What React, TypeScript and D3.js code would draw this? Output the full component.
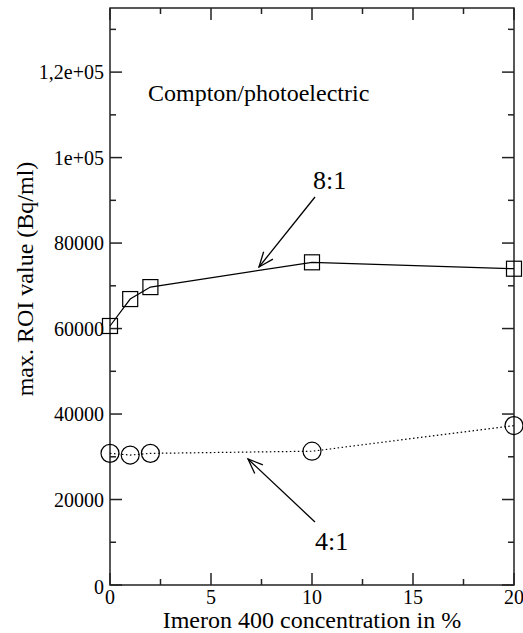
import React from "react";
import * as d3 from "d3";

const concentrations = [0, 1, 2, 10, 20];
const ratio8to1 = [60600, 66900, 69700, 75500, 74000];
const ratio4to1 = [30800, 30400, 30800, 31300, 37300];
const yMajorTicks = [0, 20000, 40000, 60000, 80000, 100000, 120000];
const yTickLabels = ["0", "20000", "40000", "60000", "80000", "1e+05", "1,2e+05"];
const xMajorTicks = [0, 5, 10, 15, 20];
const xTickLabels = ["0", "5", "10", "15", "20"];

const W = 523, H = 633;
const L = 110, R = 514, T = 8, B = 585;
const FONT = "Liberation Serif";

export default function App() {
  const x = d3.scaleLinear().domain([0, 20]).range([L, R]);
  const y = d3.scaleLinear().domain([0, 135000]).range([B, T]);
  const yMinor = d3.range(10000, 135000, 20000);
  const xMinor = d3.range(2.5, 20, 5);
  const line = d3.line<number>().x((_, i) => x(concentrations[i])).y((d) => y(d));

  const arrow = (x1: number, y1: number, x2: number, y2: number) => {
    const ang = Math.atan2(y2 - y1, x2 - x1);
    const len = 16, spread = 0.38;
    const a1 = ang + Math.PI - spread, a2 = ang + Math.PI + spread;
    return (
      <g stroke="#000" strokeWidth={1.3} fill="none">
        <line x1={x1} y1={y1} x2={x2} y2={y2} />
        <polyline points={`${x2 + len * Math.cos(a1)},${y2 + len * Math.sin(a1)} ${x2},${y2} ${x2 + len * Math.cos(a2)},${y2 + len * Math.sin(a2)}`} />
      </g>
    );
  };

  return (
    <div style={{ position: "absolute", left: 0, top: 0, width: W, height: H, fontFamily: FONT }}>
      <svg width={W} height={H} fontFamily={FONT} style={{ display: "block" }}>
        <rect x={0} y={0} width={W} height={H} fill="#fff" />
        <rect x={L} y={T} width={R - L} height={B - T} fill="none" stroke="#222" strokeWidth={1.5} />
        {yMajorTicks.map((v) => (
          <g key={"ym" + v} stroke="#222" strokeWidth={1.5}>
            <line x1={L} x2={L + 12} y1={y(v)} y2={y(v)} />
            <line x1={R} x2={R - 12} y1={y(v)} y2={y(v)} />
          </g>
        ))}
        {yMinor.map((v) => (
          <g key={"yn" + v} stroke="#222" strokeWidth={1.5}>
            <line x1={L} x2={L + 6} y1={y(v)} y2={y(v)} />
            <line x1={R} x2={R - 6} y1={y(v)} y2={y(v)} />
          </g>
        ))}
        {xMajorTicks.map((v) => (
          <g key={"xm" + v} stroke="#222" strokeWidth={1.5}>
            <line x1={x(v)} x2={x(v)} y1={B} y2={B - 12} />
            <line x1={x(v)} x2={x(v)} y1={T} y2={T + 12} />
          </g>
        ))}
        {xMinor.map((v) => (
          <g key={"xn" + v} stroke="#222" strokeWidth={1.5}>
            <line x1={x(v)} x2={x(v)} y1={B} y2={B - 6} />
            <line x1={x(v)} x2={x(v)} y1={T} y2={T + 6} />
          </g>
        ))}
        {yMajorTicks.map((v, i) => (
          <text key={"yl" + v} fontFamily={FONT} x={L - 6} y={y(v)} dy={v === 0 ? "0.45em" : "0.35em"} textAnchor="end" fontSize={20} fill="#000">
            {yTickLabels[i]}
          </text>
        ))}
        {xMajorTicks.map((v, i) => (
          <text key={"xl" + v} fontFamily={FONT} x={x(v)} y={B + 19} textAnchor="middle" fontSize={20} fill="#000">
            {xTickLabels[i]}
          </text>
        ))}
        <text fontFamily={FONT} x={(L + R) / 2} y={628} textAnchor="middle" fontSize={24} fill="#000">
          Imeron 400 concentration in %
        </text>
        <text fontFamily={FONT} transform="translate(33,279) rotate(-90)" textAnchor="middle" fontSize={24} fill="#000">
          max. ROI value (Bq/ml)
        </text>
        <path d={line(ratio8to1) || ""} fill="none" stroke="#000" strokeWidth={1.2} />
        <path d={line(ratio4to1) || ""} fill="none" stroke="#000" strokeWidth={1.2} strokeDasharray="1.5,2.5" />
        {ratio8to1.map((v, i) => (
          <rect key={"s" + i} x={x(concentrations[i]) - 7.5} y={y(v) - 7.5} width={15} height={15} fill="none" stroke="#000" strokeWidth={1.2} />
        ))}
        {ratio4to1.map((v, i) => (
          <circle key={"c" + i} cx={x(concentrations[i])} cy={y(v)} r={9} fill="none" stroke="#000" strokeWidth={1.2} />
        ))}
        <text fontFamily={FONT} x={148} y={101} fontSize={24} fill="#000">Compton/photoelectric</text>
        <text fontFamily={FONT} x={313} y={189} fontSize={26} fill="#000">8:1</text>
        {arrow(315, 197, 259, 267)}
        <text fontFamily={FONT} x={315} y={550} fontSize={26} fill="#000">4:1</text>
        {arrow(315, 522, 248, 459)}
      </svg>
    </div>
  );
}
